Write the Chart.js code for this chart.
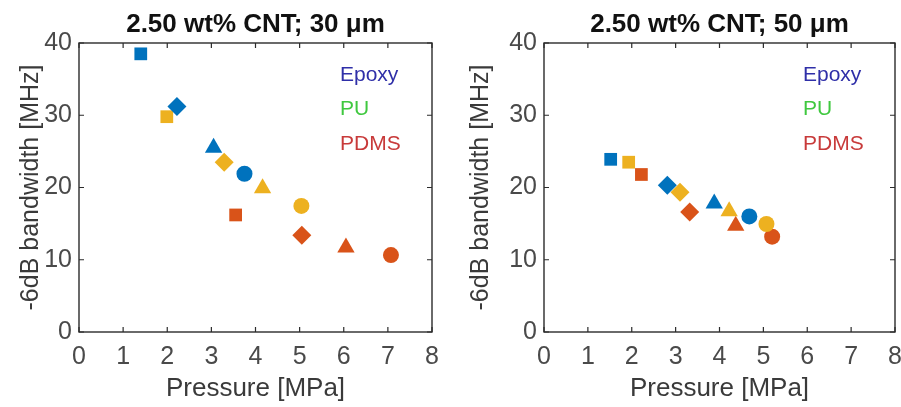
<!DOCTYPE html>
<html>
<head>
<meta charset="utf-8">
<script src="https://cdn.jsdelivr.net/npm/chart.js@4.4.1/dist/chart.umd.min.js"></script>
<style>
  html, body { margin: 0; padding: 0; background: #fff; }
  body { width: 901px; height: 407px; position: relative; overflow: hidden; }
  .panel { position: absolute; top: 0; height: 407px; }
  #left { left: 0; width: 450px; }
  #right { left: 450px; width: 475px; }
</style>
</head>
<body>
<div class="panel" id="left"><canvas id="c30"></canvas></div>
<div class="panel" id="right"><canvas id="c50"></canvas></div>
<script>
// Marker shape per point: square, diamond, triangle, circle
const shapes = ['rect', 'rectRot', 'triangle', 'circle'];
const shapeSizes = [9, 9.5, 10, 8];

// 30 µm layer
const epoxyP30 = [1.40, 2.22, 3.05, 3.75];
const epoxyBW30 = [38.5, 31.2, 25.5, 21.9];
const puP30 = [1.99, 3.29, 4.16, 5.04];
const puBW30 = [29.8, 23.5, 19.9, 17.45];
const pdmsP30 = [3.55, 5.05, 6.05, 7.07];
const pdmsBW30 = [16.2, 13.4, 11.7, 10.65];

// 50 µm layer
const epoxyP50 = [1.52, 2.81, 3.88, 4.68];
const epoxyBW50 = [23.9, 20.3, 17.8, 16.0];
const puP50 = [1.93, 3.10, 4.22, 5.07];
const puBW50 = [23.5, 19.35, 16.7, 14.95];
const pdmsP50 = [2.22, 3.32, 4.37, 5.20];
const pdmsBW50 = [21.8, 16.6, 14.7, 13.2];

const xTicks = [0, 1, 2, 3, 4, 5, 6, 7, 8];
const yTicks = [0, 10, 20, 30, 40];
const materials = ['Epoxy', 'PU', 'PDMS'];
const markerColors = ['#0072BD', '#EDB120', '#D95319'];
const legendColors = ['#2f2fa8', '#3fc83f', '#c83a3a'];

const FONT = '"Liberation Sans", Arial, Helvetica, sans-serif';

function toPoints(xs, ys) {
  return xs.map((x, i) => ({ x: x, y: ys[i] }));
}

// Box frame with inward ticks on all four sides, plus title and text legend
const framePlugin = {
  id: 'frame',
  afterDraw(chart, args, opts) {
    const { ctx, chartArea: a, scales } = chart;
    const xs = scales.x, ys = scales.y;
    const tl = 5;
    ctx.save();
    ctx.strokeStyle = '#2b2b2b';
    ctx.lineWidth = 1.4;
    ctx.strokeRect(a.left, a.top, a.right - a.left, a.bottom - a.top);
    ctx.lineWidth = 1.2;
    ctx.beginPath();
    xTicks.forEach(v => {
      const px = xs.getPixelForValue(v);
      ctx.moveTo(px, a.bottom); ctx.lineTo(px, a.bottom - tl);
      ctx.moveTo(px, a.top); ctx.lineTo(px, a.top + tl);
    });
    yTicks.forEach(v => {
      const py = ys.getPixelForValue(v);
      ctx.moveTo(a.left, py); ctx.lineTo(a.left + tl, py);
      ctx.moveTo(a.right, py); ctx.lineTo(a.right - tl, py);
    });
    ctx.stroke();

    // Title
    ctx.fillStyle = '#111';
    ctx.font = 'bold 26px ' + FONT;
    ctx.textAlign = 'center';
    ctx.textBaseline = 'middle';
    ctx.fillText(opts.title, (a.left + a.right) / 2, 25);

    // Material legend (coloured text only)
    ctx.font = '21px ' + FONT;
    ctx.textAlign = 'left';
    materials.forEach((m, i) => {
      ctx.fillStyle = legendColors[i];
      ctx.fillText(m, a.right - opts.legendOffset, 75 + i * 34.5);
    });
    ctx.restore();
  }
};

function makeChart(id, title, series, leftW, padRight, legendOffset) {
  const datasets = series.map((s, i) => ({
    label: materials[i],
    data: toPoints(s[0], s[1]),
    pointStyle: shapes,
    pointRadius: shapeSizes,
    pointHoverRadius: shapeSizes,
    backgroundColor: markerColors[i],
    borderColor: markerColors[i],
    borderWidth: 0,
    showLine: false
  }));
  return new Chart(document.getElementById(id), {
    type: 'scatter',
    data: { datasets },
    options: {
      responsive: true,
      maintainAspectRatio: false,
      animation: false,
      events: [],
      layout: { padding: { top: 43, right: padRight, bottom: 0, left: 0 } },
      plugins: {
        legend: { display: false },
        tooltip: { enabled: false },
        frame: { title: title, legendOffset: legendOffset }
      },
      scales: {
        x: {
          type: 'linear',
          min: 0, max: 8,
          afterBuildTicks: s => { s.ticks = xTicks.map(v => ({ value: v })); },
          afterFit: s => { s.height = 407 - 332; },
          grid: { display: false, drawTicks: false },
          border: { display: false },
          ticks: { color: '#4a4a4a', font: { family: FONT, size: 25 }, padding: 10, maxRotation: 0 },
          title: { display: true, text: 'Pressure [MPa]', color: '#3a3a3a', font: { family: FONT, size: 26 }, padding: { top: 0, bottom: 3 } }
        },
        y: {
          type: 'linear',
          min: 0, max: 40,
          afterBuildTicks: s => { s.ticks = yTicks.map(v => ({ value: v })); },
          afterFit: s => { s.width = leftW; },
          grid: { display: false, drawTicks: false },
          border: { display: false },
          ticks: { color: '#4a4a4a', font: { family: FONT, size: 25 }, padding: 7 },
          title: { display: true, text: '-6dB bandwidth [MHz]', color: '#3a3a3a', font: { family: FONT, size: 25 }, padding: { top: 16, bottom: 0 } }
        }
      }
    },
    plugins: [framePlugin]
  });
}

makeChart('c30', '2.50 wt% CNT; 30 μm',
  [[epoxyP30, epoxyBW30], [puP30, puBW30], [pdmsP30, pdmsBW30]], 79, 18, 92);
makeChart('c50', '2.50 wt% CNT; 50 μm',
  [[epoxyP50, epoxyBW50], [puP50, puBW50], [pdmsP50, pdmsBW50]], 94, 30, 92);
</script>
</body>
</html>
